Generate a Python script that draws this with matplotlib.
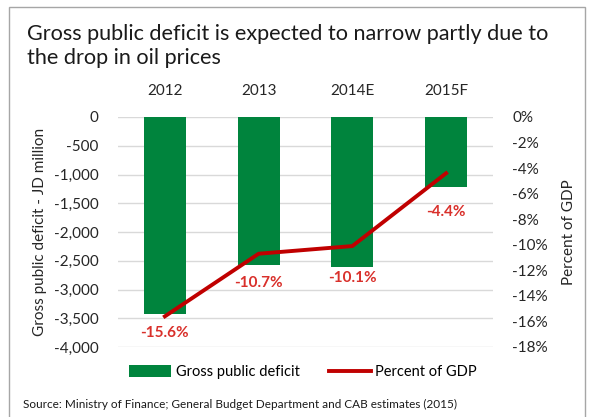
import numpy as np
import matplotlib
matplotlib.use("Agg")
import matplotlib.pyplot as plt
from matplotlib.patches import Rectangle

plt.rcParams['font.family'] = ['Lato', 'DejaVu Sans']

years = ['2012', '2013', '2014E', '2015F']
deficit = [-3420, -2570, -2610, -1220]          # JD million
pct_gdp = [-15.6, -10.7, -10.1, -4.4]            # percent of GDP
label_offsets = [-17, -29, -32, -39]             # px below the line point

green = '#00843D'
red = '#C00000'
label_red = '#D9302B'
grid_c = '#D9D9D9'

fig = plt.figure(figsize=(5.92, 4.17), dpi=100)

# outer frame
fig.patches.append(Rectangle((9 / 592, -0.05), 576 / 592, 1 - 7 / 417 + 0.05,
                             transform=fig.transFigure, fill=False,
                             edgecolor='#A6A6A6', linewidth=1.0))

ax = fig.add_axes([118 / 592, 1 - 347 / 417, 375 / 592, 230 / 417])
x = np.arange(len(years))

ax.bar(x, deficit, width=0.45, color=green, zorder=2, label='Gross public deficit')
ax.set_ylim(-4000, 0)
ax.set_xlim(-0.5, len(years) - 0.5)
ax.set_yticks(np.arange(-4000, 1, 500))
ax.yaxis.set_major_formatter(matplotlib.ticker.FuncFormatter(lambda v, p: f'{int(v):,}'))
ax.grid(axis='y', color=grid_c, linewidth=1, zorder=0)
ax.set_axisbelow(True)
ax.xaxis.tick_top()
ax.set_xticks(x)
ax.set_xticklabels(years)
ax.tick_params(length=0, labelsize=11, colors='#262626')
ax.tick_params(axis='x', pad=14)
ax.tick_params(axis='y', pad=14)
for s in ax.spines.values():
    s.set_visible(False)
ax.set_ylabel('Gross public deficit - JD million', fontsize=11, color='#262626', labelpad=5)

ax2 = ax.twinx()
ax2.plot(x, pct_gdp, color=red, linewidth=2.8, zorder=3, label='Percent of GDP')
ax2.set_ylim(-18, 0)
ax2.set_yticks(np.arange(-18, 1, 2))
ax2.yaxis.set_major_formatter(matplotlib.ticker.FuncFormatter(lambda v, p: f'{int(v)}%'))
ax2.tick_params(length=0, labelsize=11, colors='#262626', pad=14)
for s in ax2.spines.values():
    s.set_visible(False)
ax2.set_ylabel('Percent of GDP', fontsize=11, color='#262626', labelpad=10)

for xi, v, off in zip(x, pct_gdp, label_offsets):
    ax2.annotate(f'{v}%', (xi, v), xytext=(0, off * 0.72), textcoords='offset points',
                 ha='center', va='center', color=label_red, fontsize=11, fontweight='bold')

h1, l1 = ax.get_legend_handles_labels()
h2, l2 = ax2.get_legend_handles_labels()
fig.legend(h1 + h2, l1 + l2, loc='center', bbox_to_anchor=(303 / 592, 1 - 372 / 417),
           ncol=2, frameon=False, fontsize=10.5, handlelength=2.9, handleheight=0.8,
           columnspacing=2.0, handletextpad=0.3)

fig.text(27 / 592, 1 - 46 / 417, 'Gross public deficit is expected to narrow partly due to\nthe drop in oil prices',
         fontsize=15.6, color='#1a1a1a', va='center', linespacing=1.25)
fig.text(23 / 592, 1 - 404 / 417, 'Source: Ministry of Finance; General Budget Department and CAB estimates (2015)',
         fontsize=8.5, color='#1a1a1a', va='center')

fig.savefig('out.png', dpi=100)
